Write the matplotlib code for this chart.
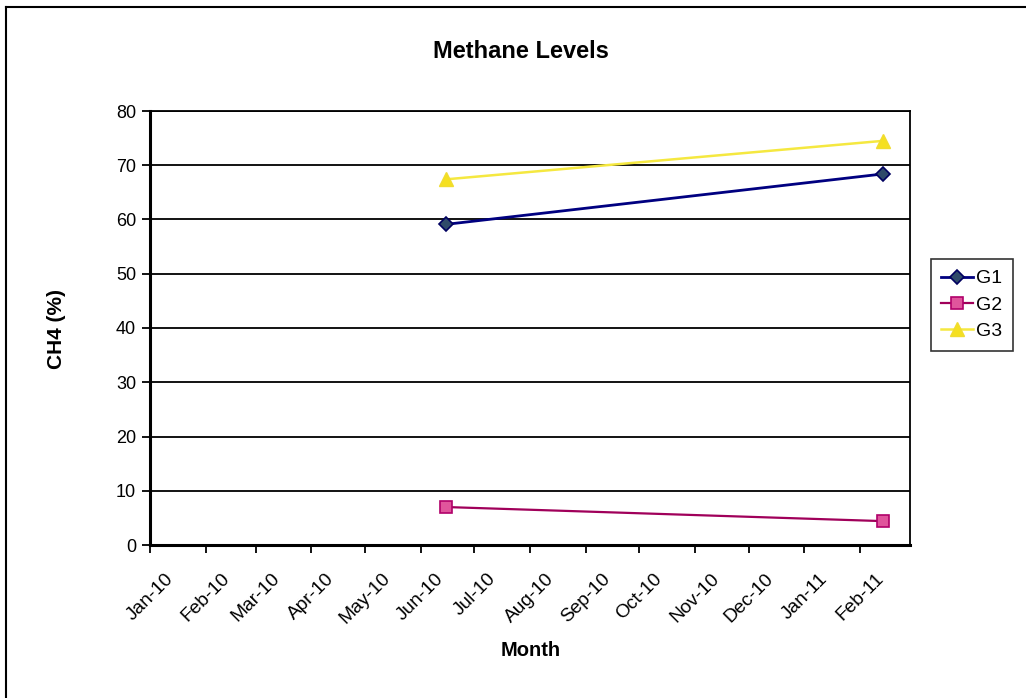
import datetime as dt

import matplotlib
matplotlib.use("Agg")
import matplotlib.pyplot as plt
import matplotlib.dates as mdates
from matplotlib.lines import Line2D

plt.rcParams['font.family'] = ['Liberation Sans', 'DejaVu Sans']

# sample dates and CH4 readings per gas well
dates = [dt.date(2010, 6, 15), dt.date(2011, 2, 14)]
g1 = [59.1, 68.4]
g2 = [7.0, 4.4]
g3 = [67.4, 74.5]

month_ticks = [dt.date(2010 + (m // 12), m % 12 + 1, 1) for m in range(14)]

fig = plt.figure(figsize=(10.26, 6.98), dpi=100)
ax = fig.add_axes([150 / 1026, 153 / 698, 760 / 1026, 434 / 698])

ax.plot(dates, g1, color='#000080', lw=2, marker='D', ms=7.5,
        mfc='#2f4a6a', mec='#000060', mew=1.2, label='G1')
ax.plot(dates, g2, color='#a0005a', lw=1.6, marker='s', ms=8.5,
        mfc='#e0559c', mec='#b0006a', mew=1.2, label='G2')
ax.plot(dates, g3, color='#f5e840', lw=1.8, marker='^', ms=9.5,
        mfc='#f5e020', mec='#f0dc30', mew=1, label='G3')

ax.set_xlim(dt.date(2010, 1, 1), dt.date(2011, 3, 1))
ax.set_ylim(0, 80)
ax.set_yticks(range(0, 81, 10))
ax.yaxis.grid(True, color='black', lw=1.3)
ax.set_axisbelow(True)

ax.set_xticks(month_ticks)
ax.xaxis.set_major_formatter(mdates.DateFormatter('%b-%y'))
ax.tick_params(axis='both', length=6, width=1.3, direction='out', colors='black')
ax.tick_params(axis='y', labelsize=13, pad=4)
ax.tick_params(axis='x', labelsize=13.8, pad=12, labelrotation=45)
for lbl in ax.get_xticklabels():
    lbl.set_ha('center')
    lbl.set_va('top')

for s in ax.spines.values():
    s.set_linewidth(1.3)
ax.spines['left'].set_linewidth(2.2)
ax.spines['bottom'].set_linewidth(2.2)

fig.text(521 / 1026, 1 - 52 / 698, 'Methane Levels', ha='center', va='center',
         fontsize=17, fontweight='bold')
fig.text(531 / 1026, 1 - 650 / 698, 'Month', ha='center', va='center',
         fontsize=14.5, fontweight='bold')
fig.text(57 / 1026, 1 - 329 / 698, 'CH4 (%)', ha='center', va='center',
         rotation=90, fontsize=15, fontweight='bold')

leg = fig.legend(loc='center', bbox_to_anchor=(972 / 1026, 1 - 305 / 698),
                 fontsize=14, frameon=True, fancybox=False, edgecolor='black',
                 handlelength=1.6, handletextpad=0.2, borderpad=0.55,
                 labelspacing=0.45, borderaxespad=0)
leg.get_frame().set_linewidth(1.2)

# outer chart border
fig.add_artist(Line2D([5.5 / 1026, 5.5 / 1026], [0, 1 - 7 / 698],
                      transform=fig.transFigure, color='black', lw=1.5))
fig.add_artist(Line2D([5.5 / 1026, 1], [1 - 7 / 698, 1 - 7 / 698],
                      transform=fig.transFigure, color='black', lw=1.5))

fig.savefig('out.png', dpi=100)
